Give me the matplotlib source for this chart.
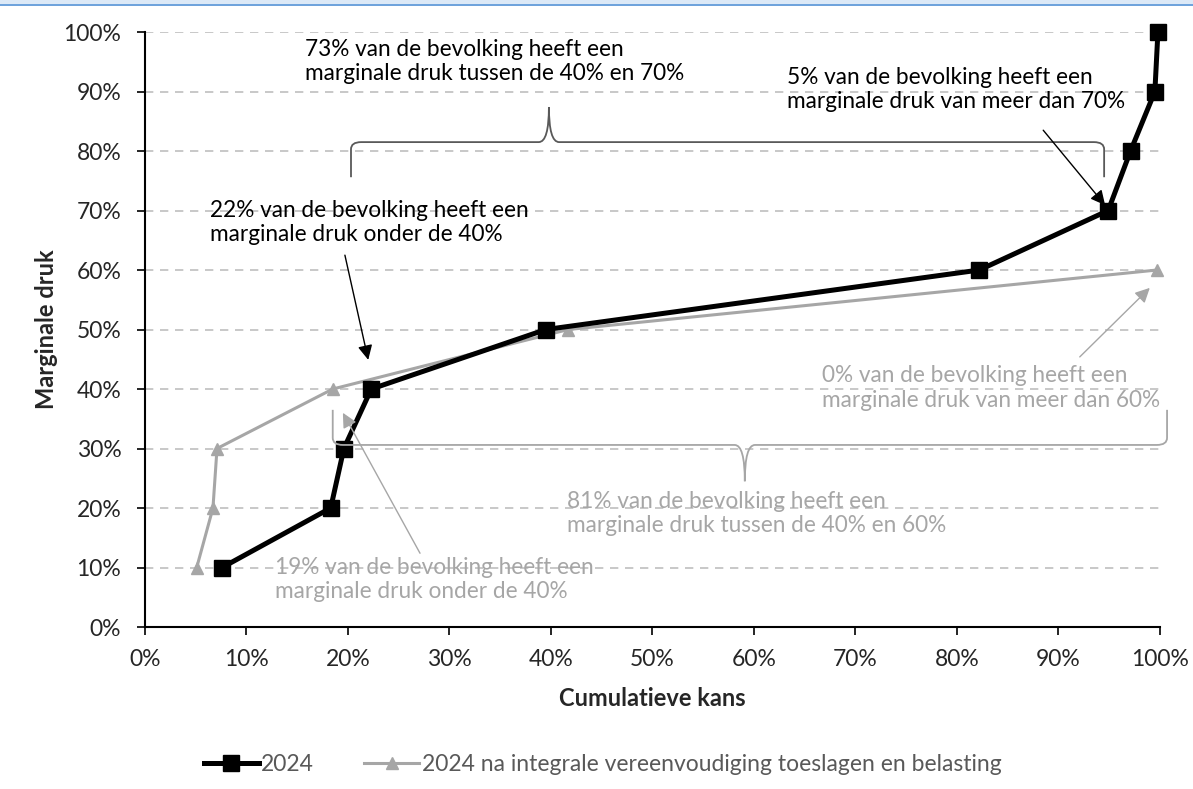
import matplotlib.pyplot as plt
from matplotlib.path import Path
from matplotlib.patches import PathPatch, Rectangle
from matplotlib.ticker import PercentFormatter

# cumulative probability (%) and marginal pressure (%)
kans_2024 = [7.6, 18.3, 19.6, 22.3, 39.5, 82.2, 94.9, 97.1, 99.5, 99.8]
druk_2024 = [10, 20, 30, 40, 50, 60, 70, 80, 90, 100]
kans_na = [5.1, 6.7, 7.1, 18.5, 41.7, 99.7]
druk_na = [10, 20, 30, 40, 50, 60]

label_2024 = "2024"
label_na = "2024 na integrale vereenvoudiging toeslagen en belasting"

BLACK = "#000000"
GREY = "#A6A6A6"
TXT = "#262626"

plt.rcParams['font.family'] = ['Lato', 'DejaVu Sans']


def brace(ax, x0, x1, xm, y, yend, ytip, color, lw, rx=1.0, ry=1.2):
    # horizontal curly brace: ends bend toward yend, tip points toward ytip
    se = 1 if yend > y else -1
    verts = [(x0, yend), (x0, y + se * ry), (x0, y), (x0 + rx, y),
             (xm - rx, y), (xm, y), (xm, ytip),
             (xm, y), (xm + rx, y),
             (x1 - rx, y), (x1, y), (x1, y + se * ry), (x1, yend)]
    codes = [Path.MOVETO, Path.LINETO, Path.CURVE3, Path.CURVE3,
             Path.LINETO, Path.CURVE3, Path.CURVE3,
             Path.CURVE3, Path.CURVE3,
             Path.LINETO, Path.CURVE3, Path.CURVE3, Path.LINETO]
    ax.add_patch(PathPatch(Path(verts, codes), fill=False, edgecolor=color,
                           lw=lw, clip_on=False, zorder=4))


def arrow(ax, start, end, color, lw):
    ax.annotate('', xy=end, xytext=start,
                arrowprops=dict(arrowstyle='-|>', color=color, lw=lw,
                                mutation_scale=22, shrinkA=0, shrinkB=0),
                zorder=5)


fig = plt.figure(figsize=(11.93, 7.89), dpi=100)
ax = fig.add_axes([0.1215, 0.2053, 0.8508, 0.7541])

# top border like the source screenshot
fig.patches.append(Rectangle((0, 0.9945), 1, 0.0055, transform=fig.transFigure,
                             facecolor='#DCE9F7', edgecolor='none'))
fig.patches.append(Rectangle((0, 0.992), 1, 0.0028, transform=fig.transFigure,
                             facecolor='#6FA3DC', edgecolor='none'))

ax.plot(kans_2024, druk_2024, color=BLACK, lw=3.6, marker='s', ms=12,
        label=label_2024, zorder=3, clip_on=False)
ax.plot(kans_na, druk_na, color=GREY, lw=2.2, marker='^', ms=9,
        label=label_na, zorder=2, clip_on=False)

ax.set_xlim(0, 100)
ax.set_ylim(0, 100)
ax.set_xticks(range(0, 101, 10))
ax.set_yticks(range(0, 101, 10))
ax.xaxis.set_major_formatter(PercentFormatter(decimals=0))
ax.yaxis.set_major_formatter(PercentFormatter(decimals=0))
ax.tick_params(axis='both', direction='out', length=6, width=1.2,
               labelsize=16.5, colors=BLACK, labelcolor=TXT)
ax.tick_params(axis='y', pad=11)
ax.tick_params(axis='x', pad=10)
ax.yaxis.grid(True, linestyle=(0, (5, 4)), color='#BFBFBF', lw=1.2)
ax.set_axisbelow(True)
for s in ['top', 'right']:
    ax.spines[s].set_visible(False)
for s in ['left', 'bottom']:
    ax.spines[s].set_linewidth(1.5)

ax.set_ylabel("Marginale druk", fontsize=17, fontweight='bold', color=TXT,
              labelpad=4)
ax.set_xlabel("Cumulatieve kans", fontsize=17, fontweight='bold', color=TXT,
              labelpad=12)

fs = 16.3
ax.text(15.8, 95.0, "73% van de bevolking heeft een\nmarginale druk tussen de 40% en 70%",
        fontsize=fs, color=BLACK, va='center', ha='left', linespacing=1.2)
ax.text(63.3, 90.3, "5% van de bevolking heeft een\nmarginale druk van meer dan 70%",
        fontsize=fs, color=BLACK, va='center', ha='left', linespacing=1.2)
ax.text(6.4, 68.0, "22% van de bevolking heeft een\nmarginale druk onder de 40%",
        fontsize=fs, color=BLACK, va='center', ha='left', linespacing=1.2)
ax.text(66.7, 40.2, "0% van de bevolking heeft een\nmarginale druk van meer dan 60%",
        fontsize=fs, color=GREY, va='center', ha='left', linespacing=1.2)
ax.text(41.6, 19.1, "81% van de bevolking heeft een\nmarginale druk tussen de 40% en 60%",
        fontsize=fs, color=GREY, va='center', ha='left', linespacing=1.2)
ax.text(12.8, 8.0, "19% van de bevolking heeft een\nmarginale druk onder de 40%",
        fontsize=fs, color=GREY, va='center', ha='left', linespacing=1.2)

brace(ax, 20.3, 94.5, 39.8, 81.5, 75.6, 87.4, '#595959', 1.3)
brace(ax, 18.5, 100.7, 59.1, 30.6, 36.5, 24.5, GREY, 1.3)

arrow(ax, (88.5, 83.5), (94.6, 70.9), BLACK, 1.0)
arrow(ax, (19.7, 62.5), (22.0, 44.9), BLACK, 1.0)
arrow(ax, (92.1, 45.4), (99.0, 57.0), GREY, 1.0)
arrow(ax, (27.1, 12.4), (19.5, 36.0), GREY, 1.0)

leg = fig.legend(loc='center', bbox_to_anchor=(0.505, 0.031), ncol=2,
                 frameon=False, fontsize=16.5, columnspacing=2.2,
                 handlelength=2.4, handletextpad=0.1)
for t in leg.get_texts():
    t.set_color('#595959')

fig.savefig("out.png", dpi=100)
